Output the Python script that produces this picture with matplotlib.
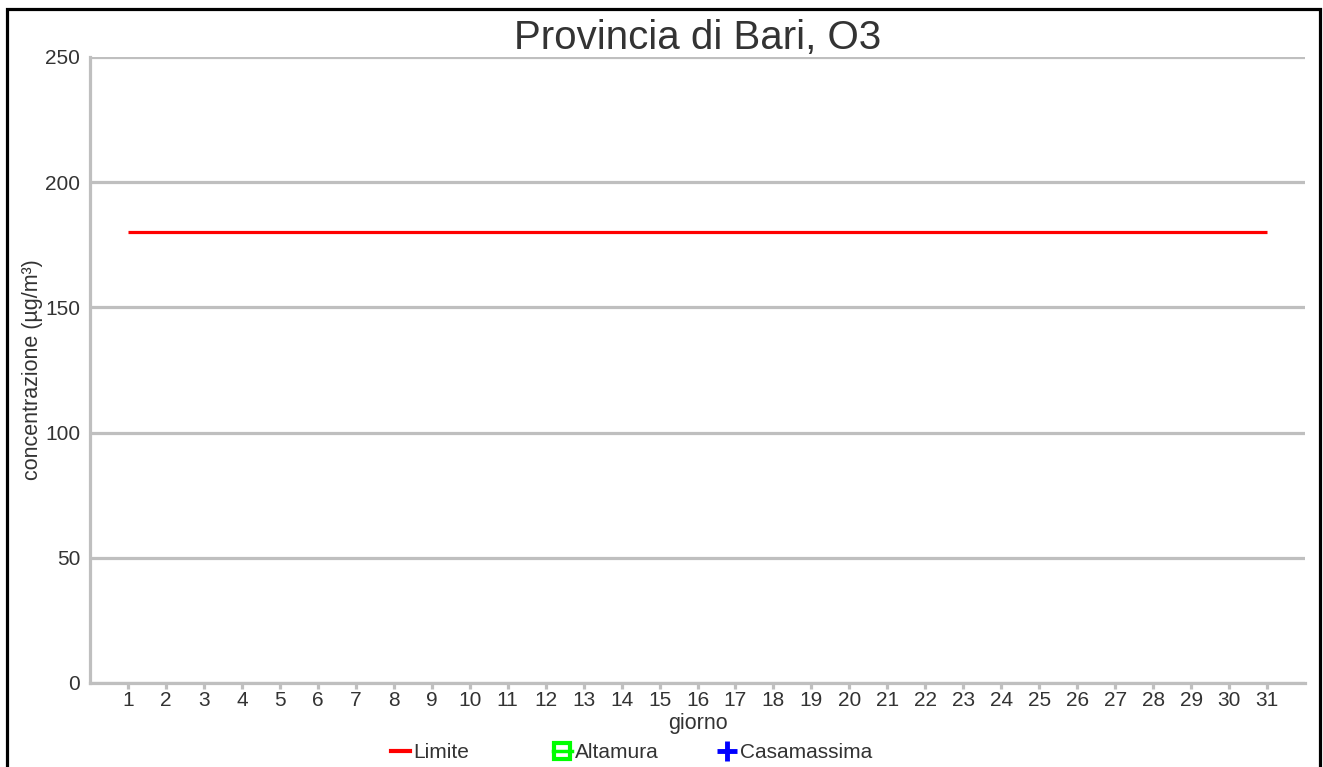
import numpy as np
import matplotlib
matplotlib.use("Agg")
import matplotlib.pyplot as plt
from matplotlib.patches import Rectangle
from matplotlib.lines import Line2D

plt.rcParams['font.family'] = ['Liberation Sans', 'DejaVu Sans']

# dati
giorni = list(range(1, 32))
limite = [180] * 31
altamura = [np.nan] * 31      # nessun dato
casamassima = [np.nan] * 31   # nessun dato

grigio = '#bfbfbf'
testo = '#333333'

fig = plt.figure(figsize=(13.23, 7.67), dpi=100)
ax = fig.add_axes([90 / 1323, 1 - 683 / 767, 1215 / 1323, 626 / 767])

ax.plot(giorni, limite, color='#ff0000', lw=2.3, solid_capstyle='butt', label='Limite')
ax.plot(giorni, altamura, color='#00ff00', marker='s', mfc='none', mec='#00ff00', label='Altamura')
ax.plot(giorni, casamassima, color='#0000ff', marker='+', label='Casamassima')

ax.set_xlim(0, 32)
ax.set_ylim(0, 250)
ax.set_xticks(giorni)
ax.set_yticks([0, 50, 100, 150, 200, 250])
ax.yaxis.grid(True, color=grigio, lw=2.3)
ax.set_axisbelow(True)
for s in ['top', 'right']:
    ax.spines[s].set_visible(False)
for s in ['left', 'bottom']:
    ax.spines[s].set_color(grigio)
    ax.spines[s].set_linewidth(2.3)
ax.tick_params(axis='x', colors=grigio, length=4, width=2.3, labelcolor=testo, labelsize=15, pad=2)
ax.tick_params(axis='y', length=0, labelcolor=testo, labelsize=15, pad=7)

ax.set_title('Provincia di Bari, O3', fontsize=29, color=testo, pad=4)
ax.set_xlabel('giorno', fontsize=15.5, color=testo)
ax.xaxis.set_label_coords(0.5, -30 / 626, transform=ax.transAxes)
ax.set_ylabel('concentrazione (µg/m³)', fontsize=15.5, color=testo)
ax.yaxis.set_label_coords(-47 / 1215, 0.5, transform=ax.transAxes)

# legenda: tre voci a colonne fisse
voci = [
    (Line2D([], [], color='#ff0000', lw=3), 'Limite', 391),
    (Line2D([], [], color='#00ff00', lw=2.5, marker='s', ms=11, mfc='none', mec='#00ff00', mew=3), 'Altamura', 553),
    (Line2D([], [], color='#0000ff', lw=0, marker='+', ms=14, mew=3.5), 'Casamassima', 718),
]
for h, t, xpx in voci:
    lg = fig.legend([h], [t], loc='center left', bbox_to_anchor=(xpx / 1323, 1 - 753 / 767),
                    frameon=False, fontsize=15, handlelength=0.9, handletextpad=0.15,
                    borderpad=0, borderaxespad=0, labelcolor=testo)

# cornice
fig.patches.append(Rectangle((7 / 1323, -0.05), 1313 / 1323, 1.05 - 9 / 767, transform=fig.transFigure,
                             fill=False, ec='black', lw=2.3))

fig.savefig('out.png', dpi=100)
